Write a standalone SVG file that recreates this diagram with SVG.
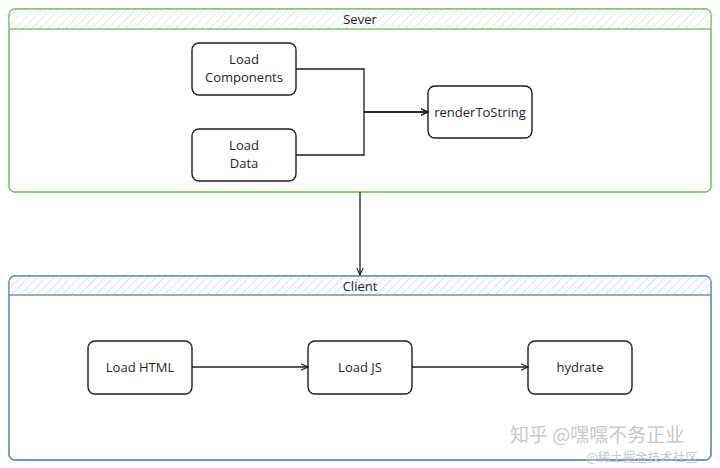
<svg xmlns="http://www.w3.org/2000/svg" width="720" height="468" viewBox="0 0 720 468">
<defs>
<pattern id="hg" width="6" height="6" patternUnits="userSpaceOnUse" patternTransform="rotate(45)">
<rect width="6" height="6" fill="#ffffff"/>
<line x1="0" y1="0" x2="0" y2="6" stroke="#cfe6c6" stroke-width="1.5"/>
</pattern>
<pattern id="hb" width="6" height="6" patternUnits="userSpaceOnUse" patternTransform="rotate(45)">
<rect width="6" height="6" fill="#ffffff"/>
<line x1="0" y1="0" x2="0" y2="6" stroke="#c6d6ea" stroke-width="1.5"/>
</pattern>
<marker id="arr" viewBox="0 0 10 10" refX="9" refY="5" markerWidth="8" markerHeight="8" orient="auto" markerUnits="userSpaceOnUse">
<path d="M0,1 L9,5 L0,9" fill="none" stroke="#1e1e1e" stroke-width="1.4"/>
</marker>
</defs>
<style>
.node rect{fill:#ffffff;stroke:#1e1e1e;stroke-width:1.4}
.lbl{font-family:"Open Sans","Liberation Sans",sans-serif;font-size:13px;fill:#1e1e1e;text-anchor:middle}
.title{font-family:"Open Sans","Liberation Sans",sans-serif;font-size:13px;fill:#1e1e1e;text-anchor:middle}
.conn path{fill:none;stroke:#1e1e1e;stroke-width:1.3}
.wm{font-family:"Noto Sans CJK SC",sans-serif;fill:#c8c8c8}
</style>
<rect width="720" height="468" fill="#ffffff"/>
<g id="sever">
<rect x="9" y="9" width="702" height="183" rx="6" fill="#ffffff" stroke="#86c27a" stroke-width="1.3"/>
<path d="M9,29 V15 Q9,9 15,9 H705 Q711,9 711,15 V29 Z" fill="url(#hg)"/>
<rect x="9" y="9" width="702" height="183" rx="6" fill="none" stroke="#86c27a" stroke-width="1.3"/>
<line x1="9" y1="29" x2="711" y2="29" stroke="#86c27a" stroke-width="1.3"/>
<text class="title" x="360" y="24">Sever</text>
</g>
<g id="client">
<rect x="9" y="276" width="702" height="184" rx="6" fill="#ffffff" stroke="#6f8fbf" stroke-width="1.3"/>
<path d="M9,295 V282 Q9,276 15,276 H705 Q711,276 711,282 V295 Z" fill="url(#hb)"/>
<rect x="9" y="276" width="702" height="184" rx="6" fill="none" stroke="#6f8fbf" stroke-width="1.3"/>
<line x1="9" y1="295" x2="711" y2="295" stroke="#6f8fbf" stroke-width="1.3"/>
<text class="title" x="360" y="291">Client</text>
</g>
<g id="load-components" class="node">
<rect x="192" y="43" width="104" height="52" rx="7"/>
<text class="lbl" x="244" y="64">Load</text>
<text class="lbl" x="244" y="82">Components</text>
</g>
<g id="load-data" class="node">
<rect x="192" y="129" width="104" height="52" rx="7"/>
<text class="lbl" x="244" y="150">Load</text>
<text class="lbl" x="244" y="168">Data</text>
</g>
<g id="render-to-string" class="node">
<rect x="428" y="86" width="104" height="52" rx="7"/>
<text class="lbl" x="480" y="117">renderToString</text>
</g>
<g id="load-html" class="node">
<rect x="88" y="341" width="104" height="53" rx="7"/>
<text class="lbl" x="140" y="372">Load HTML</text>
</g>
<g id="load-js" class="node">
<rect x="308" y="341" width="104" height="53" rx="7"/>
<text class="lbl" x="360" y="372">Load JS</text>
</g>
<g id="hydrate" class="node">
<rect x="528" y="341" width="104" height="53" rx="7"/>
<text class="lbl" x="580" y="372">hydrate</text>
</g>
<g id="connectors" class="conn">
<path d="M296,69 H364 V112 H428" marker-end="url(#arr)"/>
<path d="M296,155 H364 V112 H428" marker-end="url(#arr)"/>
<path d="M360,192 V275" marker-end="url(#arr)"/>
<path d="M192,367 H308" marker-end="url(#arr)"/>
<path d="M412,367 H528" marker-end="url(#arr)"/>
</g>
<g id="watermark">
<text class="wm" x="510" y="442" font-size="19">知乎 @嘿嘿不务正业</text>
<text class="wm" x="586" y="462" font-size="12.5">@稀土掘金技术社区</text>
</g>
</svg>
